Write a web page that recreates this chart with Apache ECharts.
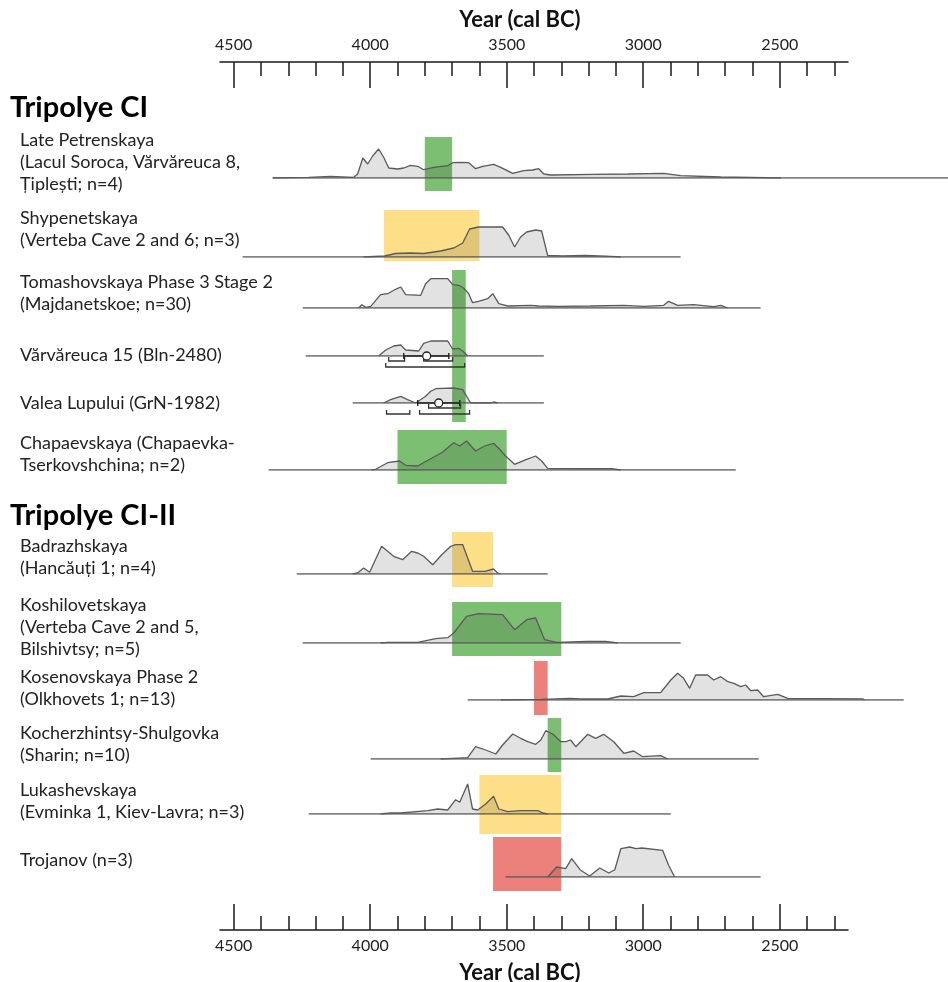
<!DOCTYPE html>
<html>
<head>
<meta charset="utf-8">
<script src="https://cdn.jsdelivr.net/npm/echarts@6/dist/echarts.min.js"></script>
<style>
  html, body { margin: 0; padding: 0; background: #fff; }
  #chart { width: 948px; height: 982px; }
</style>
</head>
<body>
<div id="chart"></div>
<script>
// phase colours
const GREEN = "#7dbf72";
const YELLOW = "#fddf87";
const RED = "#ec817b";
const FONT = "Lato";

const majorYears = [4500, 4000, 3500, 3000, 2500];
const minorYears = [4400, 4300, 4200, 4100, 3900, 3800, 3700, 3600, 3400, 3300,
  3200, 3100, 2900, 2800, 2700, 2600, 2400, 2300];

const sectionLabels = ["Tripolye CI", "Tripolye CI-II"];
const rowLabels = [
  ["Late Petrenskaya", "(Lacul Soroca, Vărvăreuca 8,", "Țiplești; n=4)"],
  ["Shypenetskaya", "(Verteba Cave 2 and 6; n=3)"],
  ["Tomashovskaya Phase 3 Stage 2", "(Majdanetskoe; n=30)"],
  ["Vărvăreuca 15 (Bln-2480)"],
  ["Valea Lupului (GrN-1982)"],
  ["Chapaevskaya (Chapaevka-", "Tserkovshchina; n=2)"],
  ["Badrazhskaya", "(Hancăuți 1; n=4)"],
  ["Koshilovetskaya", "(Verteba Cave 2 and 5,", "Bilshivtsy; n=5)"],
  ["Kosenovskaya Phase 2", "(Olkhovets 1; n=13)"],
  ["Kocherzhintsy-Shulgovka", "(Sharin; n=10)"],
  ["Lukashevskaya", "(Evminka 1, Kiev-Lavra; n=3)"],
  ["Trojanov (n=3)"]
];

// summed probability curves: [year cal BC, relative probability]
const petrenskaya = [[4357,0],[4225,0.7],[4145,1.7],[4060,0.7],[4046,4],[4027,20],[4009,14],[3991,22],[3969,29],
  [3951,21],[3932,10],[3899,9],[3877,10],[3852,12.7],[3826,11.7],[3804,8.3],[3767,10.7],[3716,12.3],[3698,15.3],
  [3668,15.7],[3639,15.3],[3614,9.3],[3588,11.7],[3548,13.7],[3522,10.7],[3478,4.7],[3438,7.3],[3405,8],[3383,9.3],
  [3364,4],[3339,3],[3181,3.7],[3057,4],[2925,4.7],[2863,2.3],[2716,1],[2496,0]];
const shypenetskaya = [[4024,0],[3947,1],[3907,3.5],[3852,4],[3804,3.5],[3742,6],[3694,9],[3661,14],[3636,28],
  [3603,30],[3515,30],[3493,22],[3471,10],[3449,20],[3427,25],[3394,27],[3372,26],[3350,1.5],[3295,1.2],[3211,1.5],
  [3137,0.8],[3082,0]];
const tomashovskaya = [[4042,0],[4031,3.3],[4016,0.7],[3998,1.7],[3962,13.3],[3936,14.3],[3907,18.7],[3888,21],
  [3870,13.3],[3815,12.7],[3797,24.3],[3778,29.3],[3716,29.3],[3698,23.3],[3676,22.7],[3658,20],[3639,14.3],
  [3625,5.3],[3603,6.7],[3570,9.3],[3551,14.3],[3529,4.3],[3496,2],[3412,2.7],[3383,2],[3313,1.7],[3192,2],
  [3071,2.7],[2998,1.7],[2925,2.7],[2907,6.7],[2874,2.7],[2815,3.3],[2789,2.7],[2742,1.3],[2716,2.7],[2690,0]];
const varvareuca = [[3969,0],[3943,6],[3914,10],[3888,11],[3870,6],[3822,5],[3804,12.7],[3778,15],[3716,15],
  [3698,7],[3676,7.7],[3658,4.3],[3643,0]];
const valea = [[3951,0],[3925,3.3],[3888,6.7],[3863,3.3],[3833,0],[3797,6.7],[3778,11.7],[3760,14.3],[3694,15],
  [3661,13.3],[3643,5],[3632,0],[3559,0],[3548,1],[3533,0]];
const chapaevskaya = [[3995,0],[3980,0.7],[3936,7.3],[3892,9],[3870,4.7],[3826,4],[3782,10.7],[3738,17.3],[3694,27.3],
  [3672,24],[3647,29],[3614,19],[3581,24],[3548,26.7],[3526,20.7],[3504,14],[3471,5.7],[3427,10.7],[3394,14],
  [3372,9],[3350,1.7],[3229,1.3],[3115,1.3],[3082,0]];
const badrazhskaya = [[4064,0],[4046,1],[4024,6],[4002,1.7],[3958,27.7],[3914,17.7],[3881,14.3],[3848,22.7],
  [3826,21],[3804,17.7],[3771,9.3],[3738,19.3],[3705,27.7],[3687,29.3],[3661,29.3],[3625,2.7],[3581,2.7],
  [3548,5],[3533,1],[3522,0]];
const koshilovetskaya = [[3962,0],[3936,0.7],[3826,0.7],[3760,4.3],[3716,5.3],[3694,10],[3647,26.7],[3603,29.3],
  [3515,28.3],[3471,13.3],[3427,23.3],[3394,25],[3361,3.3],[3317,0.7],[3207,1.7],[3137,1.7],[3093,0]];
const kosenovskaya = [[3522,0],[3375,0.7],[3266,1.7],[3229,1],[3130,1],[3082,4],[3035,3.3],[2998,7.3],[2936,7.3],
  [2899,20],[2874,26.7],[2852,21.7],[2830,11.7],[2808,25],[2764,25],[2742,20],[2716,23.3],[2690,18.3],[2668,16.7],
  [2643,13.3],[2625,15],[2606,9.3],[2581,10],[2559,3.3],[2507,5.7],[2471,1.7],[2196,1.2],[2189,0]];
const kocherzhintsy = [[3742,0],[3694,0.7],[3643,1.3],[3614,12.3],[3577,9],[3540,5],[3515,14],[3478,25],[3449,20.7],
  [3423,17.3],[3394,14.7],[3375,19],[3357,28.3],[3331,25],[3302,17.3],[3284,17.3],[3266,19],[3247,12.3],[3203,24.7],
  [3174,20.7],[3145,24.7],[3108,17.3],[3071,5.7],[3035,8],[3002,2.3],[2936,3.3],[2910,0]];
const lukashevskaya = [[3962,0],[3925,1],[3888,1],[3789,3.3],[3753,5],[3716,4],[3687,14.3],[3672,11.7],[3643,30],
  [3625,5],[3606,4],[3577,10],[3548,17.7],[3529,5],[3496,2.3],[3449,3.3],[3386,3.3],[3368,1],[3350,0]];
const trojanov = [[3350,0],[3317,10],[3284,8.3],[3262,18.3],[3229,6.7],[3196,1],[3159,9],[3126,4],[3104,7.3],
  [3082,28.3],[3049,30],[3027,28.3],[3005,29],[2929,26.7],[2907,11.7],[2885,0]];

const curves = [petrenskaya, shypenetskaya, tomashovskaya, varvareuca, valea, chapaevskaya,
  badrazhskaya, koshilovetskaya, kosenovskaya, kocherzhintsy, lukashevskaya, trojanov];

// extent of each row's time line (cal BC)
const baseRanges = [[4357,1850],[4467,2863],[4247,2570],[4236,3364],[4064,3364],[4372,2661],
  [4269,3350],[4247,2863],[3643,2046],[3998,2577],[4225,2899],[3504,2570]];

// phase boxes [from, to, colour]; null = none
const boxes = [[3800,3700,GREEN],[3950,3600,YELLOW],[3700,3650,GREEN],null,null,[3900,3500,GREEN],
  [3700,3550,YELLOW],[3700,3300,GREEN],[3400,3350,RED],[3350,3300,GREEN],[3600,3300,YELLOW],[3550,3300,RED]];

// single-date calibrations: [median, whisker from, whisker to]
const varvMedian = [[3793, 3877, 3712]];
const valeaMedian = [[3749, 3826, 3672]];
// calibrated ranges: [from, to, bracket level]
const varvRanges = [[3932,3874,0],[3804,3698,0],[3943,3654,1]];
const valeaRanges = [[3786,3669,0],[3940,3855,1],[3819,3636,1]];

// ---- layout ----
const AX_LEFT = 220, AX_WIDTH = 628, AX_OLD = 4550, AX_YOUNG = 2250;
const pxPerYear = AX_WIDTH / (AX_OLD - AX_YOUNG);
const ROW_WIDTH = 948 - AX_LEFT;
const ROW_YOUNG = AX_OLD - ROW_WIDTH / pxPerYear;
const ROW_H = 45;
const baselineY = [178, 257, 308, 356, 403, 470, 574, 643, 700, 759, 814, 877];
const labelY = [140, 218, 282, 355, 403, 443, 546, 605, 677, 733, 790, 860];
const sectionY = [108, 516];
const boxSpan = [[41,13],[47,4],[38,114],null,null,[40,14],[42,13],[41,13],[39,15],[41,13],[39,20],[40,14]];
const bracketDepth = [5, 11];

const chart = echarts.init(document.getElementById("chart"));

const grid = [{ left: AX_LEFT, width: AX_WIDTH, top: 62, height: 868, outerBoundsMode: "none" }];
const xAxis = [];
const yAxis = [{ gridIndex: 0, show: false, min: 0, max: 1 }];
const series = [];

function axisPair(position) {
  const top = position === "top";
  xAxis.push({
    gridIndex: 0, type: "value", position: position, inverse: true,
    min: AX_YOUNG, max: AX_OLD,
    axisLine: { show: true, onZero: false, lineStyle: { color: "#1a1a1a", width: 1.6 } },
    axisTick: { show: true, inside: true, length: 26, customValues: majorYears,
      lineStyle: { color: "#1a1a1a", width: 1.5 } },
    axisLabel: { show: true, customValues: majorYears, margin: top ? 9 : 8,
      formatter: v => String(v), fontFamily: FONT, fontSize: 16, color: "#222" },
    splitLine: { show: false },
    name: "Year (cal BC)", nameLocation: "middle", nameGap: top ? 31 : 32, nameMoveOverlap: false,
    nameTextStyle: { fontFamily: FONT, fontWeight: "bold", fontSize: 22, color: "#111",
      padding: [0, 28, 0, 0] }
  });
  xAxis.push({
    gridIndex: 0, type: "value", position: position, inverse: true,
    min: AX_YOUNG, max: AX_OLD,
    axisLine: { show: false, onZero: false },
    axisTick: { show: true, inside: true, length: 14, customValues: minorYears,
      lineStyle: { color: "#1a1a1a", width: 1.5 } },
    axisLabel: { show: false },
    splitLine: { show: false }
  });
}
axisPair("top");
axisPair("bottom");

curves.forEach((curve, i) => {
  const gi = grid.length;
  grid.push({ left: AX_LEFT, width: ROW_WIDTH, top: baselineY[i] - ROW_H, height: ROW_H, outerBoundsMode: "none" });
  const xi = xAxis.length;
  xAxis.push({ gridIndex: gi, type: "value", inverse: true, min: ROW_YOUNG, max: AX_OLD, show: false });
  const yi = yAxis.length;
  yAxis.push({ gridIndex: gi, type: "value", min: 0, max: ROW_H, show: false });

  if (boxes[i]) {
    const b = boxes[i], span = boxSpan[i];
    series.push({
      type: "custom", xAxisIndex: xi, yAxisIndex: yi, clip: false, silent: true, z: 1,
      data: [[b[0], b[1]]],
      renderItem: (params, api) => {
        const p0 = api.coord([api.value(0), span[0]]);
        const p1 = api.coord([api.value(1), -span[1]]);
        return { type: "rect", shape: { x: p0[0], y: p0[1], width: p1[0] - p0[0], height: p1[1] - p0[1] },
          style: { fill: b[2] } };
      }
    });
  }
  series.push({
    type: "line", xAxisIndex: xi, yAxisIndex: yi, data: curve, symbol: "none", silent: true, z: 3,
    lineStyle: { color: "#5a5a5a", width: 1.3 },
    areaStyle: { color: "rgba(0,0,0,0.16)" }
  });
  series.push({
    type: "line", xAxisIndex: xi, yAxisIndex: yi, data: [[baseRanges[i][0], 0], [baseRanges[i][1], 0]],
    symbol: "none", silent: true, z: 4,
    lineStyle: { color: "#5a5a5a", width: 1.5 }
  });

  const cal = i === 3 ? [varvMedian, varvRanges] : i === 4 ? [valeaMedian, valeaRanges] : null;
  if (cal) {
    series.push({
      type: "custom", xAxisIndex: xi, yAxisIndex: yi, clip: false, silent: true, z: 5,
      data: cal[1],
      renderItem: (params, api) => {
        const a = api.coord([api.value(0), 0]);
        const b = api.coord([api.value(1), 0]);
        const y = a[1] + bracketDepth[api.value(2)];
        return { type: "polyline", shape: { points: [[a[0], y - 4], [a[0], y], [b[0], y], [b[0], y - 4]] },
          style: { stroke: "#333", lineWidth: 1.3, fill: null } };
      }
    });
    series.push({
      type: "custom", xAxisIndex: xi, yAxisIndex: yi, clip: false, silent: true, z: 6,
      data: cal[0],
      renderItem: (params, api) => {
        const m = api.coord([api.value(0), 0]);
        const lo = api.coord([api.value(1), 0]);
        const hi = api.coord([api.value(2), 0]);
        return { type: "group", children: [
          { type: "line", shape: { x1: lo[0], y1: m[1], x2: hi[0], y2: m[1] }, style: { stroke: "#222", lineWidth: 1.4 } },
          { type: "line", shape: { x1: lo[0], y1: m[1] - 3, x2: lo[0], y2: m[1] + 3 }, style: { stroke: "#222", lineWidth: 1.4 } },
          { type: "line", shape: { x1: hi[0], y1: m[1] - 3, x2: hi[0], y2: m[1] + 3 }, style: { stroke: "#222", lineWidth: 1.4 } },
          { type: "circle", shape: { cx: m[0], cy: m[1], r: 4 }, style: { fill: "#fff", stroke: "#222", lineWidth: 1.3 } }
        ] };
      }
    });
  }
});

const graphic = [];
sectionLabels.forEach((t, i) => {
  graphic.push({ type: "text", x: 10, y: sectionY[i],
    style: { text: t, font: "bold 29px " + FONT, fill: "#000", verticalAlign: "middle" } });
});
rowLabels.forEach((lines, i) => {
  lines.forEach((t, k) => {
    graphic.push({ type: "text", x: 20, y: labelY[i] + k * 22,
      style: { text: t, font: "18px " + FONT, fill: "#222", verticalAlign: "middle" } });
  });
});

chart.setOption({
  animation: false,
  backgroundColor: "#fff",
  grid: grid,
  xAxis: xAxis,
  yAxis: yAxis,
  series: series,
  graphic: graphic
});
</script>
</body>
</html>
